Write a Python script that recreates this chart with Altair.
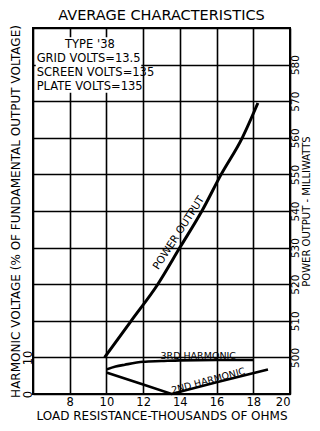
import altair as alt
import pandas as pd

# ---- data ----
power_x = [9.9, 11.35, 12.8, 14.0, 15.2, 16.25, 17.4, 18.25]
power_mw = [500, 510, 520, 530, 540, 550, 560, 569.5]

third_x = [10.0, 10.5, 11.0, 12.0, 13.0, 14.0, 16.0, 18.0]
third_pct = [6.7, 7.5, 8.0, 8.8, 9.0, 9.2, 9.3, 9.3]

second_x = [10.0, 12.0, 13.55, 16.0, 18.8]
second_pct = [5.9, 2.6, 0.0, 3.2, 6.7]

x_ticks = [6, 8, 10, 12, 14, 16, 18, 20]
left_ticks = [0, 10, 20, 30, 40, 50, 60, 70, 80, 90, 100]
right_ticks = [500, 510, 520, 530, 540, 550, 560, 570, 580]

info_lines = ["GRID VOLTS=13.5", "SCREEN VOLTS=135", "PLATE VOLTS=135"]
info_x = [6.2, 6.2, 6.2]
info_y = [91.5, 87.7, 83.9]

curve_labels = ["3RD HARMONIC", "2ND HARMONIC"]
curve_label_x = [15.0, 15.55]
curve_label_y = [10.4, 3.6]
curve_label_angle = [0, 345]

FONT = "DejaVu Sans"

power_df = pd.DataFrame({"x": power_x, "mw": power_mw})
third_df = pd.DataFrame({"x": third_x, "pct": third_pct})
second_df = pd.DataFrame({"x": second_x, "pct": second_pct})
info_df = pd.DataFrame({"x": info_x, "pct": info_y, "t": info_lines})
type_df = pd.DataFrame({"x": [9.1], "pct": [95.4], "t": ["TYPE '38"]})
clab_df = pd.DataFrame({"x": curve_label_x, "pct": curve_label_y, "t": curve_labels,
                        "a": curve_label_angle})
box_df = pd.DataFrame({"x": [6.15], "x2": [11.9], "pct": [82.3], "pct2": [97.5]})
plab_df = pd.DataFrame({"x": [13.95], "mw": [534.0], "t": ["POWER OUTPUT"]})

xscale = alt.Scale(domain=[6, 20], nice=False, zero=False)
lscale = alt.Scale(domain=[0, 100], nice=False, zero=False)
rscale = alt.Scale(domain=[490, 590], nice=False, zero=False)

x_axis = alt.Axis(
    values=x_ticks, labelExpr="datum.value == 6 ? '' : datum.label",
    title="LOAD RESISTANCE-THOUSANDS OF OHMS", grid=True, gridColor="black",
    gridWidth=1.6, ticks=False, domain=False, labelPadding=2, labelFont=FONT,
    labelFontSize=11.5, labelColor="black", titleFont=FONT, titleFontSize=12,
    titleFontWeight="normal", titleColor="black", titleY=28.5, titleBaseline="bottom",
)
X = alt.X("x:Q", scale=xscale, axis=x_axis)

left_axis = alt.Axis(
    values=left_ticks, labelExpr="datum.value <= 10 ? datum.label : ''",
    title="HARMONIC VOLTAGE (% OF FUNDAMENTAL OUTPUT VOLTAGE)", grid=True,
    gridColor="black", gridWidth=1.6, ticks=False, domain=False, labelAngle=270,
    labelPadding=0, labelFont=FONT, labelFontSize=11.5, labelColor="black",
    titleFont=FONT, titleFontSize=12, titleFontWeight="normal", titleColor="black",
    titleAngle=270, titleX=-18, titleY=183, titleBaseline="middle", titleAlign="center",
)
right_axis = alt.Axis(
    values=right_ticks, orient="right", title="POWER OUTPUT - MILLIWATTS",
    grid=False, ticks=False, domain=False, labelAngle=270, labelPadding=0,
    labelFont=FONT, labelFontSize=10.5, labelColor="black", titleFont=FONT,
    titleFontSize=10, titleFontWeight="normal", titleColor="black",
    titleAngle=270, titleX=16, titleY=183, titleBaseline="middle", titleAlign="center",
)

third = alt.Chart(third_df).mark_line(color="black", strokeWidth=2.6, interpolate="monotone").encode(
    x=X, y=alt.Y("pct:Q", scale=lscale, axis=left_axis))
box = alt.Chart(box_df).mark_rect(color="white").encode(
    x=X, x2="x2:Q", y=alt.Y("pct:Q", scale=lscale, axis=None), y2="pct2:Q")
second = alt.Chart(second_df).mark_line(color="black", strokeWidth=2.6).encode(
    x=X, y=alt.Y("pct:Q", scale=lscale, axis=None))
info = alt.Chart(info_df).mark_text(align="left", baseline="middle", font=FONT,
                                    fontSize=11.5, color="black").encode(
    x=X, y=alt.Y("pct:Q", scale=lscale, axis=None), text="t:N")
typ = alt.Chart(type_df).mark_text(align="center", baseline="middle", font=FONT,
                                   fontSize=11.5, color="black").encode(
    x=X, y=alt.Y("pct:Q", scale=lscale, axis=None), text="t:N")
clab = alt.Chart(clab_df).mark_text(align="center", baseline="middle", font=FONT,
                                    fontSize=9.5, color="black").encode(
    x=X, y=alt.Y("pct:Q", scale=lscale, axis=None), text="t:N",
    angle=alt.Angle("a:Q", scale=None))
power = alt.Chart(power_df).mark_line(color="black", strokeWidth=3, interpolate="monotone").encode(
    x=X, y=alt.Y("mw:Q", scale=rscale, axis=right_axis))
plab = alt.Chart(plab_df).mark_text(align="center", baseline="middle", font=FONT,
                                    fontSize=10.5, color="black", angle=303).encode(
    x=X, y=alt.Y("mw:Q", scale=rscale, axis=None), text="t:N")

chart = alt.layer(third, box, second, info, typ, clab, power, plab).resolve_scale(
    y="independent").properties(
    width=257, height=366,
    autosize=alt.AutoSizeParams(type="none"),
    padding={"left": 25, "top": 20, "right": 22, "bottom": 29},
    title=alt.TitleParams("AVERAGE  CHARACTERISTICS", font=FONT, fontSize=14.5,
                          fontWeight="normal", color="black", anchor="middle", offset=1),
    background="white",
).configure_view(stroke="black", strokeWidth=2)

chart.save("out.html", embed_options={"renderer": "svg", "actions": False})
